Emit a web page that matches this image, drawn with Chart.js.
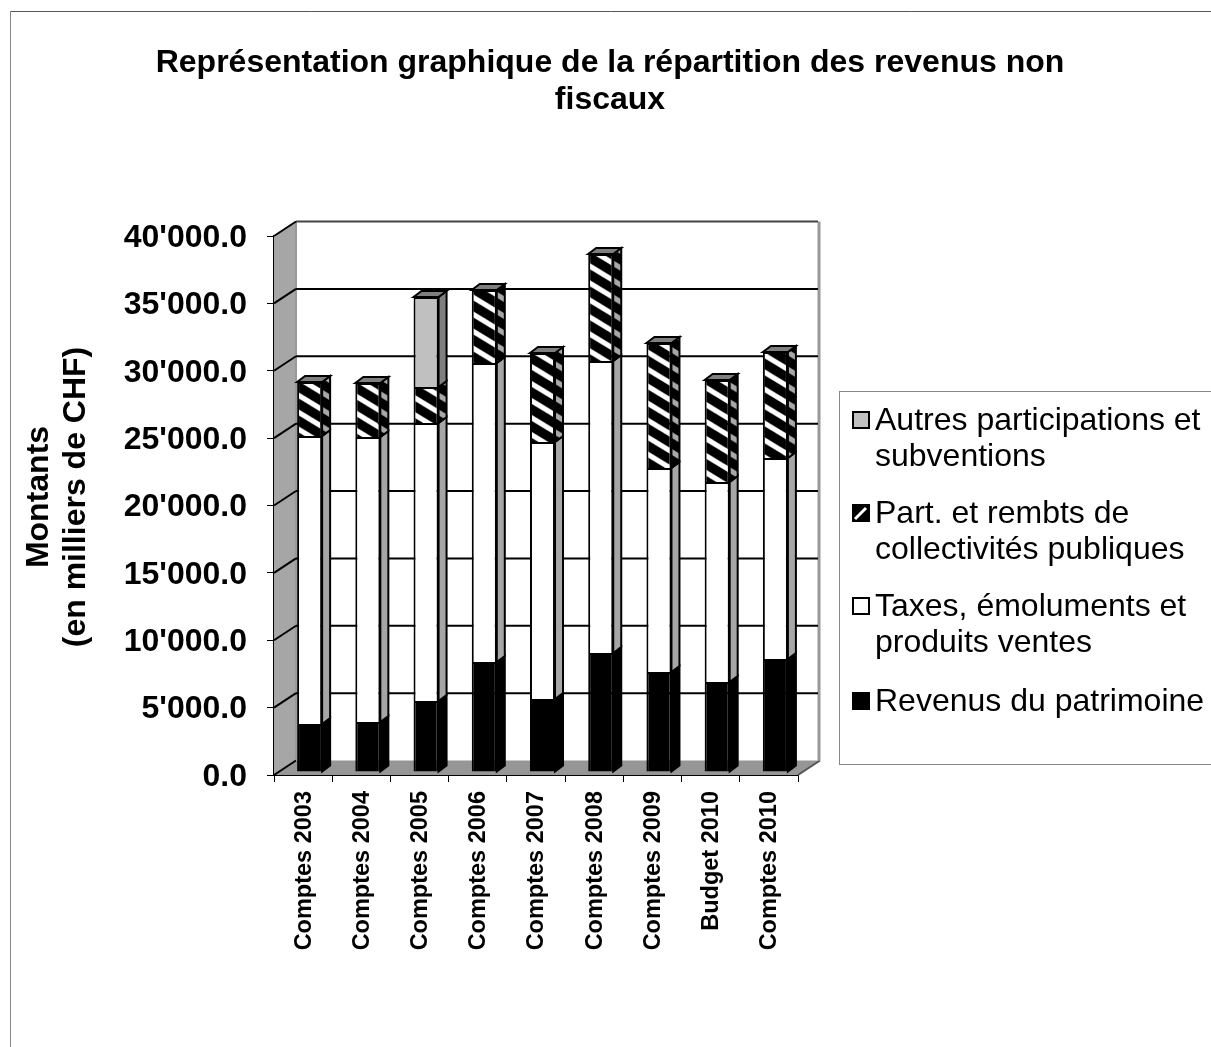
<!DOCTYPE html>
<html>
<head>
<meta charset="utf-8">
<title>Revenus non fiscaux</title>
<style>
  html, body { margin: 0; padding: 0; background: #fff; }
  canvas { display: block; }
</style>
<script src="https://cdn.jsdelivr.net/npm/chart.js@4"></script>
</head>
<body>
<canvas id="revenusChart" width="1211" height="1047"></canvas>
<script>
const categories = ['Comptes 2003', 'Comptes 2004', 'Comptes 2005', 'Comptes 2006', 'Comptes 2007', 'Comptes 2008', 'Comptes 2009', 'Budget 2010', 'Comptes 2010'];
const revenusPatrimoine = [3560, 3710, 5270, 8160, 5420, 8830, 7420, 6680, 8390];
const taxesEmoluments = [21375, 21150, 20630, 22190, 19070, 21670, 15140, 14840, 14910];
const partRembts = [4005, 4010, 2670, 5420, 6600, 7940, 9280, 7570, 7870];
const autresParticipations = [0, 0, 6680, 0, 0, 0, 0, 0, 0];
const legendLines = [
    ['Revenus du patrimoine'],
    ['Taxes, émoluments et', 'produits ventes'],
    ['Part. et rembts de', 'collectivités publiques'],
    ['Autres participations et', 'subventions']
];
const titleLines = ['Représentation graphique de la répartition des revenus non', 'fiscaux'];
const axisTitleLines = ['Montants', '(en milliers de CHF)'];

// depth of the fake 3D box and of the bars
const wallDx = 22, wallDy = 14.5;
const barDx = 8, barDy = 6;
const barShiftX = 6.5, barShiftY = -3;

function hatch(stripe) {
    const w = 28, h = 17;
    const tile = document.createElement('canvas');
    tile.width = w;
    tile.height = h;
    const c = tile.getContext('2d');
    c.fillStyle = '#000';
    c.fillRect(0, 0, w, h);
    c.strokeStyle = stripe;
    c.lineWidth = 5.2;
    [-h, 0, h].forEach(function(off) {
        c.beginPath();
        c.moveTo(-w, off - h);
        c.lineTo(2 * w, off + 2 * h);
        c.stroke();
    });
    return c.createPattern(tile, 'repeat');
}
const hatchFront = hatch('#fff');
const hatchSide = hatch('#a8a8a8');

function poly(ctx, pts, fill, stroke, lw) {
    ctx.beginPath();
    pts.forEach(function(p, i) { i ? ctx.lineTo(p[0], p[1]) : ctx.moveTo(p[0], p[1]); });
    ctx.closePath();
    if (fill) { ctx.fillStyle = fill; ctx.fill(); }
    if (stroke) { ctx.strokeStyle = stroke; ctx.lineWidth = lw; ctx.stroke(); }
}

function line(ctx, x1, y1, x2, y2, color, lw) {
    ctx.beginPath();
    ctx.moveTo(x1, y1);
    ctx.lineTo(x2, y2);
    ctx.strokeStyle = color;
    ctx.lineWidth = lw;
    ctx.stroke();
}

const sideColors = ['#000', '#a6a6a6', hatchSide, '#7f7f7f'];

const box3d = {
    id: 'box3d',
    beforeDatasetsDraw(chart) {
        const ctx = chart.ctx, a = chart.chartArea, y = chart.scales.y;
        const zero = y.getPixelForValue(0), top = y.getPixelForValue(40000);
        ctx.save();
        // side wall
        poly(ctx, [[a.left, zero], [a.left + wallDx, zero - wallDy], [a.left + wallDx, top - wallDy], [a.left, top]], '#a6a6a6');
        // floor
        poly(ctx, [[a.left, zero], [a.left + wallDx, zero - wallDy], [a.right + wallDx, zero - wallDy], [a.right, zero]], '#969696');
        line(ctx, a.right, zero, a.right + wallDx, zero - wallDy, '#555', 2);
        // back wall edges
        line(ctx, a.left + wallDx, top - wallDy, a.left + wallDx, zero - wallDy, '#999', 2);
        line(ctx, a.right + wallDx - 1, top - wallDy, a.right + wallDx - 1, zero - wallDy, '#999', 3);
        // gridlines run back along the wall
        y.ticks.forEach(function(t) {
            const py = y.getPixelForValue(t.value);
            line(ctx, a.left, py, a.left + wallDx, py - wallDy, '#000', 2);
            if (t.value > 0) {
                line(ctx, a.left + wallDx, py - wallDy, a.right + wallDx - 2, py - wallDy, t.value === 40000 ? '#444' : '#000', 2);
            }
        });
        ctx.restore();

        ctx.save();
        ctx.translate(barShiftX, barShiftY);
        // sides and tops of the bars
        chart.data.datasets.forEach(function(ds, i) {
            chart.getDatasetMeta(i).data.forEach(function(el, j) {
                if (!ds.data[j]) return;
                const r = el.x + el.width / 2;
                poly(ctx, [[r, el.y], [r + barDx, el.y - barDy], [r + barDx, el.base - barDy], [r, el.base]], sideColors[i], '#000', 2);
                const above = chart.data.datasets.slice(i + 1).some(function(d) { return d.data[j] > 0; });
                if (!above) {
                    const l = el.x - el.width / 2;
                    poly(ctx, [[l, el.y], [l + barDx, el.y - barDy], [r + barDx, el.y - barDy], [r, el.y]], '#7f7f7f', '#000', 2);
                }
            });
        });
    },
    afterDatasetsDraw(chart) {
        chart.ctx.restore();
    },
    afterDraw(chart) {
        const ctx = chart.ctx;
        ctx.save();
        // page frame
        line(ctx, 10, 11.5, 1211, 11.5, '#555', 1);
        line(ctx, 10.5, 11, 10.5, 1047, '#888', 1);
        // axis title sits a little above the middle of the scale, so not the native one
        ctx.translate(57.5, 497);
        ctx.rotate(-Math.PI / 2);
        ctx.fillStyle = '#000';
        ctx.font = 'bold 32px "Liberation Sans"';
        ctx.textAlign = 'center';
        ctx.textBaseline = 'middle';
        axisTitleLines.forEach(function(t, k) {
            ctx.fillText(t, 0, (k - 0.5) * 37);
        });
        ctx.restore();
    }
};

// legend sits in its own layout box so the plot keeps its place
const legendBox = {
    position: 'right',
    weight: 0,
    fullSize: false,
    options: {},
    update(maxW, maxH) {
        this.width = 413;
        this.height = maxH;
        return { width: this.width, height: this.height };
    },
    isHorizontal() { return false; },
    draw() {
        const ctx = this.chart.ctx;
        const datasets = this.chart.data.datasets;
        const rows = [702, 607, 514, 421];
        ctx.save();
        line(ctx, 839.5, 391, 839.5, 764, '#888', 1);
        line(ctx, 839, 391.5, 1211, 391.5, '#888', 1);
        line(ctx, 839, 764.5, 1211, 764.5, '#888', 1);
        ctx.font = '32px "Liberation Sans"';
        ctx.textBaseline = 'middle';
        ctx.textAlign = 'left';
        datasets.forEach(function(ds, i) {
            const cy = rows[i];
            const isHatch = ds.backgroundColor === hatchFront;
            ctx.fillStyle = isHatch ? '#000' : ds.backgroundColor;
            ctx.fillRect(853, cy - 9, 16, 16);
            if (isHatch) {
                line(ctx, 855, cy + 5, 866, cy - 6, '#fff', 3);
            }
            ctx.strokeStyle = '#000';
            ctx.lineWidth = 2;
            ctx.strokeRect(853, cy - 9, 16, 16);
            ctx.fillStyle = '#000';
            legendLines[i].forEach(function(t, k) {
                ctx.fillText(t, 875, cy + k * 36.5);
            });
        });
        ctx.restore();
    }
};

new Chart(document.getElementById('revenusChart'), {
    type: 'bar',
    data: {
        labels: categories,
        datasets: [
            { label: legendLines[0].join(' '), data: revenusPatrimoine, backgroundColor: '#000' },
            { label: legendLines[1].join(' '), data: taxesEmoluments, backgroundColor: '#fff' },
            { label: legendLines[2].join(' '), data: partRembts, backgroundColor: hatchFront },
            { label: legendLines[3].join(' '), data: autresParticipations, backgroundColor: '#c0c0c0' }
        ]
    },
    options: {
        responsive: false,
        animation: false,
        layout: { padding: { left: 9 } },
        datasets: {
            bar: {
                borderColor: '#000',
                borderWidth: 2,
                barPercentage: 0.43,
                categoryPercentage: 1,
                clip: false
            }
        },
        plugins: {
            legend: { display: false },
            tooltip: { enabled: false },
            title: {
                display: true,
                text: titleLines,
                color: '#000',
                font: { family: '"Liberation Sans"', size: 32, weight: 'bold', lineHeight: 37 / 32 },
                padding: { top: 44.5, bottom: 117.5 }
            }
        },
        scales: {
            x: {
                stacked: true,
                afterFit(scale) { scale.height = 272; },
                border: { color: '#000', width: 2 },
                grid: { drawOnChartArea: false, color: '#000', lineWidth: 1, tickLength: 7 },
                ticks: {
                    color: '#000',
                    autoSkip: false,
                    minRotation: 90,
                    maxRotation: 90,
                    padding: 9,
                    labelOffset: 1,
                    font: { family: '"Liberation Sans"', size: 23.5, weight: 'bold' }
                }
            },
            y: {
                stacked: true,
                min: 0,
                max: 40000,
                afterFit(scale) { scale.width = 265; },
                border: { color: '#000', width: 3 },
                grid: { drawOnChartArea: false, color: '#000', lineWidth: 1, tickLength: 7 },
                ticks: {
                    stepSize: 5000,
                    color: '#000',
                    padding: 20,
                    labelOffset: 2,
                    font: { family: '"Liberation Sans"', size: 32, weight: 'bold' },
                    callback(value) {
                        return value.toFixed(1).replace(/\B(?=(\d{3})+(?!\d))/g, "'");
                    }
                }
            }
        }
    },
    plugins: [box3d, {
        id: 'legendBox',
        install(chart) {
            legendBox.chart = chart;
            Chart.layouts.addBox(chart, legendBox);
        }
    }]
});
</script>
</body>
</html>
